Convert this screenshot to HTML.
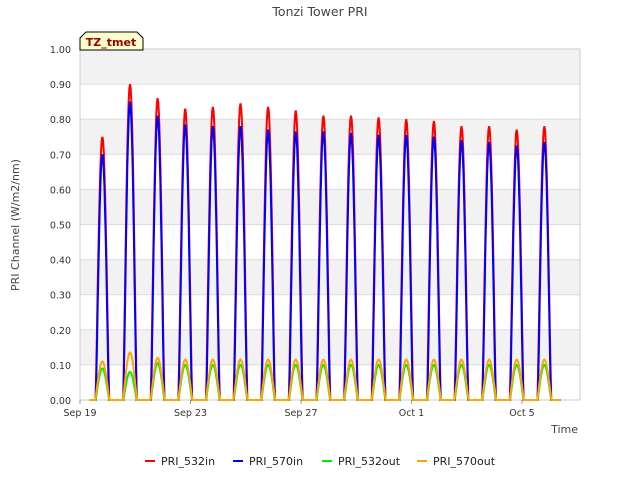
<!DOCTYPE html>
<html><head><meta charset="utf-8"><style>
body{margin:0;background:#fff;font-family:"Liberation Sans","DejaVu Sans",sans-serif;}
svg text{font-family:"DejaVu Sans","Liberation Sans",sans-serif;}
</style></head><body>
<svg id="c" width="640" height="480" xmlns="http://www.w3.org/2000/svg">
<rect width="640" height="480" fill="#fff"/>
<text x="320" y="16" text-anchor="middle" font-size="12.5" fill="#444">Tonzi Tower PRI</text>
<g id="grid"></g>
<g id="series"></g>
<g id="axes"></g>
<g>
<path d="M80,50 L80,38 L86,32 L137,32 L143,38 L143,50 Z" fill="#ffffcc" stroke="#000" stroke-width="1"/>
<text x="111" y="46" text-anchor="middle" font-size="11" font-weight="bold" fill="#990000">TZ_tmet</text>
</g>
<text x="19" y="225" transform="rotate(-90 19 225)" text-anchor="middle" font-size="11" fill="#444">PRI Channel (W/m2/nm)</text>
<text x="578" y="433" text-anchor="end" font-size="11" fill="#444">Time</text>
<g id="legend"></g>
</svg>
<script>
const seriesNames=["PRI_532in","PRI_570in","PRI_532out","PRI_570out"];
const seriesColors=["#ff0000","#0000ff","#00ee00","#ffa500"];
const peak532in=[0.75,0.90,0.86,0.83,0.835,0.845,0.835,0.825,0.81,0.81,0.805,0.80,0.795,0.78,0.78,0.77,0.78];
const peak570in=[0.70,0.85,0.81,0.785,0.78,0.78,0.77,0.765,0.765,0.76,0.755,0.755,0.75,0.74,0.735,0.725,0.735];
const peak532out=[0.09,0.08,0.105,0.10,0.10,0.10,0.10,0.10,0.10,0.10,0.10,0.10,0.10,0.10,0.10,0.10,0.10];
const peak570out=[0.11,0.135,0.12,0.115,0.115,0.115,0.115,0.115,0.115,0.115,0.115,0.115,0.115,0.115,0.115,0.115,0.115];
const yTicks=[0,0.1,0.2,0.3,0.4,0.5,0.6,0.7,0.8,0.9,1.0];
const xTickDays=[0,4,8,12,16];
const xTickLabels=["Sep 19","Sep 23","Sep 27","Oct 1","Oct 5"];
const X0=80,X1=580,Y0=400,Y1=49,DAYS=18.1;
const x=d=>X0+(X1-X0)*d/DAYS;
const y=v=>Y0-(Y0-Y1)*v;
const NS="http://www.w3.org/2000/svg";
function mk(t,a,p){const e=document.createElementNS(NS,t);for(const k in a)e.setAttribute(k,a[k]);p.appendChild(e);return e;}
const grid=document.getElementById('grid');
for(let i=0;i<10;i++){if(i%2==1){const r=mk('rect',{x:X0,y:y(yTicks[i+1]),width:X1-X0,height:y(yTicks[i])-y(yTicks[i+1]),fill:'#f2f2f2'},grid);

}}
yTicks.forEach(v=>{const l=mk('line',{x1:X0,x2:X1,y1:y(v),y2:y(v),stroke:'#dcdcdc'},grid);

});
mk('rect',{x:X0,y:Y1,width:X1-X0,height:Y0-Y1,fill:'none',stroke:'#ccc'},grid);
const axes=document.getElementById('axes');
yTicks.forEach(v=>{const t=mk('text',{x:71,y:y(v)+4,'text-anchor':'end','font-size':'9.5',fill:'#333'},axes);t.textContent=v.toFixed(2);

});
xTickDays.forEach((d,i)=>{const t=mk('text',{x:x(d),y:416,'text-anchor':'middle','font-size':'9.5',fill:'#333'},axes);t.textContent=xTickLabels[i];


mk('line',{x1:x(d),x2:x(d),y1:Y0,y2:Y0+4,stroke:'#999'},axes);});
const sg=document.getElementById('series');
const peaks=[peak532in,peak570in,peak532out,peak570out];
const widths=[0.5,0.48,0.5,0.52];
peaks.forEach((arr,si)=>{
  let pts=[[x(0.35),y(0)]];
  arr.forEach((p,d)=>{
    const c=d+0.81,w=widths[si];
    pts.push([x(c-w/2-0.02),y(0)]);
    for(let k=0;k<=20;k++){const f=k/20;const s=Math.sin(Math.PI*f);pts.push([x(c-w/2+w*f),y(p*Math.pow(s,1.2))]);}
    pts.push([x(c+w/2+0.02),y(0)]);
  });
  pts.push([x(17.4),y(0)]);
  const pl=mk('polyline',{points:pts.map(q=>q[0].toFixed(1)+','+q[1].toFixed(1)).join(' '),fill:'none',stroke:seriesColors[si],'stroke-width':2},sg);
  
  
});
const lg=document.getElementById('legend');
const lx=[145,233,322,417];
seriesNames.forEach((n,i)=>{
  const g=mk('g',{},lg);
  
  
  mk('line',{x1:lx[i],x2:lx[i]+10,y1:461,y2:461,stroke:seriesColors[i],'stroke-width':2},g);
  const t=mk('text',{x:lx[i]+16,y:465,'font-size':'11',fill:'#222'},g);t.textContent=n;
});
</script>
</body></html>
